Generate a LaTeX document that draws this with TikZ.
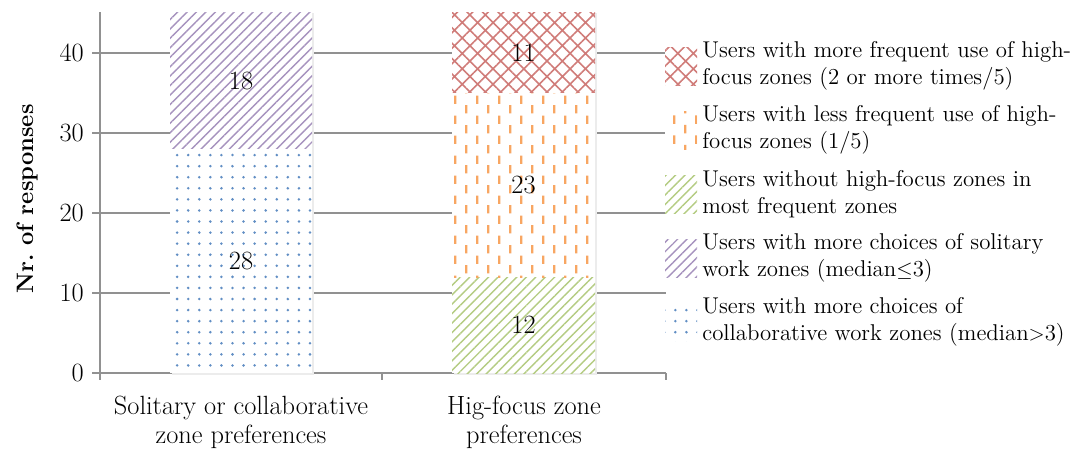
\documentclass[tikz,border=0pt]{standalone}
\usetikzlibrary{patterns.meta}
\definecolor{gridgray}{RGB}{145,145,145}
\definecolor{solblue}{RGB}{79,129,189}
\definecolor{solpurple}{RGB}{128,100,162}
\definecolor{hfgreen}{RGB}{155,187,89}
\definecolor{hforange}{RGB}{247,150,70}
\definecolor{hfred}{RGB}{192,80,77}

% staggered vertical dashes (orange segment)
\tikzdeclarepattern{
  name=vdashes,
  type=uncolored,
  bottom left={(0pt,0pt)},
  top right={(12.5pt,11.4pt)},
  tile size={(12.5pt,11.4pt)},
  code={
    \draw[line width=1.3pt] (3pt,0.3pt) -- (3pt,5.3pt);
    \draw[line width=1.3pt] (9.25pt,6pt) -- (9.25pt,11pt);
  }
}

\begin{document}
\begin{tikzpicture}[
  lab/.style={font=\fontsize{15}{16.5}\selectfont},
  leg/.style={font=\fontsize{13}{15.4}\selectfont, anchor=west, align=left, inner sep=0pt},
  gridline/.style={gridgray, line width=1pt},
  seg/.style={preaction={fill=white}},
  collab/.style={seg, pattern={Dots[radius=0.8pt, distance=6.3pt]}, pattern color=solblue!90},
  solit/.style={seg, pattern={Lines[angle=45, distance=3.8pt, line width=0.8pt]}, pattern color=solpurple!70},
  nohf/.style={seg, pattern={Lines[angle=45, distance=3.8pt, line width=0.8pt]}, pattern color=hfgreen!75},
  lesshf/.style={seg, pattern=vdashes, pattern color=hforange!85},
  morehf/.style={seg, pattern={Hatch[angle=45, distance=6.2pt, line width=0.9pt]}, pattern color=hfred!75},
  swatch/.style={minimum width=0.64cm, minimum height=0.76cm, inner sep=0pt}
]
\useasboundingbox (0,0) rectangle (21.84,9.08);

% plot area: x in cm from the axis, y in responses
\begin{scope}[shift={(2,1.62)}, y=0.16cm]

% gridlines and y ticks
\foreach \y in {10,20,30,40} {
  \draw[gridline] (0,\y) -- (11.32,\y);
}
\foreach \y in {0,10,20,30,40} {
  \draw[gridline] (-0.16,\y) -- (0,\y);
  \node[lab, anchor=east] (t\y) at (-0.2,\y) {\y};
}
\draw[gridline] (0,0) -- (0,45.1);
\draw[gridline] (0,0) -- (11.32,0);
\foreach \x in {0,5.64,11.32} {
  \draw[gridline] (\x,0) -- (\x,-0.85);
}

% shadows
\fill[gray!15] (1.44,-0.3) rectangle (4.28,45);
\fill[gray!15] (7.08,-0.3) rectangle (9.94,45);

% solitary / collaborative bar
\draw[collab, draw=none] (1.4,0) rectangle (4.24,28);
\draw[solit, draw=none] (1.4,28) rectangle (4.24,45);
\node[lab] (v28) at (2.82,14) {28};
\node[lab] (v18) at (2.82,36.5) {18};

% high-focus bar
\draw[nohf, draw=none] (7.04,0) rectangle (9.9,12);
\draw[lesshf, draw=none] (7.04,12) rectangle (9.9,35);
\draw[morehf, draw=none] (7.04,35) rectangle (9.9,45);
\node[lab] (v12) at (8.47,6) {12};
\node[lab] (v23) at (8.47,23.5) {23};
\node[lab] (v11) at (8.47,40) {11};

\end{scope}

% axis labels
\node[lab, align=center] (c1) at (4.82,0.64) {Solitary or collaborative\\zone preferences};
\node[lab, align=center] (c2) at (10.48,0.64) {Hig-focus zone\\preferences};
\node[font=\fontsize{13.5}{16}\selectfont\bfseries, rotate=90] (ylab) at (0.55,5.1) {Nr.\ of responses};

% legend
\node[swatch, morehf] (s1) at (13.62,7.76) {};
\node[swatch, lesshf] (s2) at (13.62,6.48) {};
\node[swatch, nohf] (s3) at (13.62,5.2) {};
\node[swatch, solit] (s4) at (13.62,3.92) {};
\node[swatch, collab] (s5) at (13.62,2.64) {};
\node[leg] (l1) at (14.04,7.76) {Users with more frequent use of high-\\focus zones (2 or more times/5)};
\node[leg] (l2) at (14.04,6.48) {Users with less frequent use of high-\\focus zones (1/5)};
\node[leg] (l3) at (14.04,5.2) {Users without high-focus zones in\\most frequent zones};
\node[leg] (l4) at (14.04,3.92) {Users with more choices of solitary\\work zones (median$\leq$3)};
\node[leg] (l5) at (14.04,2.64) {Users with more choices of\\collaborative work zones (median$>$3)};

\end{tikzpicture}
\end{document}
